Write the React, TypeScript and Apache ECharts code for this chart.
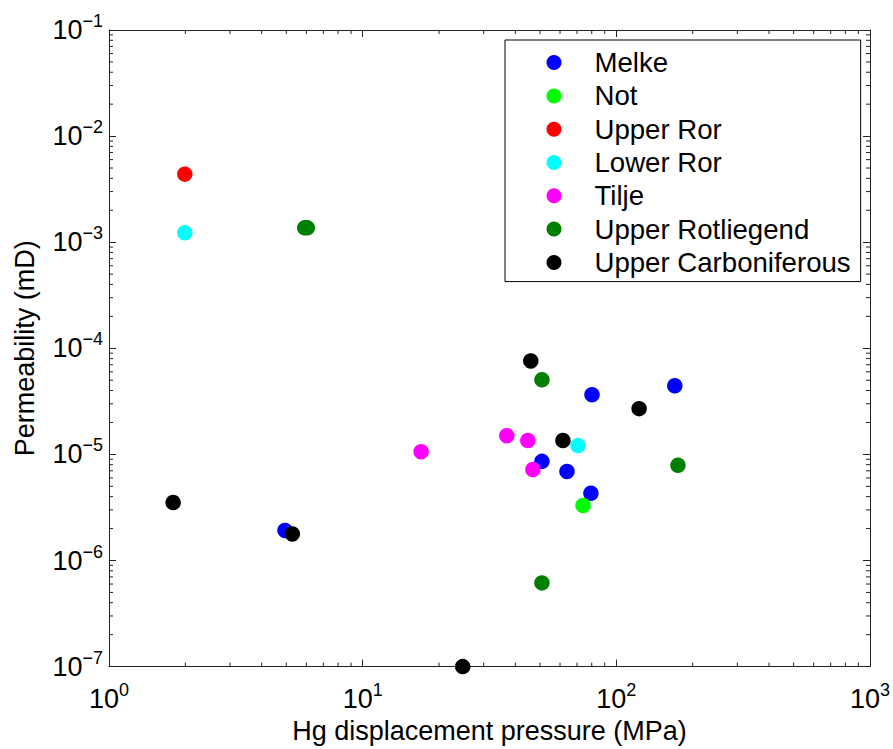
import React, { useEffect, useRef } from "react";
import * as echarts from "echarts";

const FONT = "'Liberation Sans', Arial, Helvetica, sans-serif";

const seriesNames = [
  "Melke",
  "Not",
  "Upper Ror",
  "Lower Ror",
  "Tilje",
  "Upper Rotliegend",
  "Upper Carboniferous",
];
const seriesColors = ["#0000ff", "#00ff00", "#ff0000", "#00ffff", "#ff00ff", "#008000", "#000000"];

const melke = [[4.94, 1.92e-6], [50.9, 8.6e-6], [63.9, 6.9e-6], [80.2, 3.65e-5], [79.4, 4.3e-6], [170, 4.43e-5]];
const notData = [[73.9, 3.3e-6]];
const upperRor = [[1.99, 4.38e-3]];
const lowerRor = [[1.99, 1.225e-3], [70.6, 1.21e-5]];
const tilje = [[17.0, 1.06e-5], [37.0, 1.5e-5], [44.8, 1.35e-5], [46.9, 7.2e-6]];
const upperRotliegend = [[5.91, 1.365e-3], [6.05, 1.365e-3], [50.9, 5.05e-5], [175, 7.9e-6], [50.9, 6.15e-7]];
const upperCarboniferous = [[1.79, 3.52e-6], [5.28, 1.78e-6], [24.8, 1e-7], [46.0, 7.6e-5], [123, 2.7e-5], [61.6, 1.35e-5]];

const allData = [melke, notData, upperRor, lowerRor, tilje, upperRotliegend, upperCarboniferous];

const X_MIN = 1;
const X_MAX = 1000;
const Y_MIN = 1e-7;
const Y_MAX = 1e-1;
const xDecades = [0, 1, 2];
const yDecades = [-7, -6, -5, -4, -3, -2];
const minorMultipliers = [2, 3, 4, 5, 6, 7, 8, 9];

const AXIS_COLOR = "#222";

function expLabel(v: number) {
  const e = Math.round(Math.log10(v));
  const s = e < 0 ? "\u2212" + Math.abs(e) : String(e);
  return `{b|10}{e|${s}}`;
}

const richLabel = {
  b: { fontSize: 27, fontFamily: FONT, color: "#000" },
  e: { fontSize: 18, fontFamily: FONT, color: "#000", padding: [0, 0, 18, 0] },
};

export default function App() {
  const ref = useRef<HTMLDivElement>(null);
  useEffect(() => {
    if (!ref.current) return;
    const chart = echarts.init(ref.current, null, { renderer: "svg" });

    const scatterSeries = seriesNames.map((name, i) => ({
      name,
      type: "scatter",
      xAxisIndex: 0,
      yAxisIndex: 0,
      data: allData[i],
      symbol: "circle",
      symbolSize: 15.5,
      clip: false,
      itemStyle: { color: seriesColors[i], opacity: 1 },
      emphasis: { disabled: true },
      z: 4,
    }));

    const tickSeries = {
      type: "custom",
      xAxisIndex: 0,
      yAxisIndex: 0,
      silent: true,
      clip: false,
      z: 3,
      data: [[X_MIN, Y_MIN]],
      renderItem: (_params: any, api: any) => {
        const children: any[] = [];
        const L = 4;
        const st = { stroke: AXIS_COLOR, lineWidth: 1 };
        xDecades.forEach((d) => {
          minorMultipliers.forEach((m) => {
            const v = Math.pow(10, d) * m;
            const pb = api.coord([v, Y_MIN]);
            const pt = api.coord([v, Y_MAX]);
            children.push({ type: "line", shape: { x1: pb[0], y1: pb[1], x2: pb[0], y2: pb[1] - L }, style: st });
            children.push({ type: "line", shape: { x1: pt[0], y1: pt[1], x2: pt[0], y2: pt[1] + L }, style: st });
          });
        });
        yDecades.forEach((d) => {
          minorMultipliers.forEach((m) => {
            const v = Math.pow(10, d) * m;
            const pl = api.coord([X_MIN, v]);
            const pr = api.coord([X_MAX, v]);
            children.push({ type: "line", shape: { x1: pl[0], y1: pl[1], x2: pl[0] + L, y2: pl[1] }, style: st });
            children.push({ type: "line", shape: { x1: pr[0], y1: pr[1], x2: pr[0] - L, y2: pr[1] }, style: st });
          });
        });
        return { type: "group", children };
      },
    };

    const axisCommon = {
      type: "log",
      logBase: 10,
      axisLine: { show: true, onZero: false, lineStyle: { color: AXIS_COLOR, width: 1 } },
      axisTick: { show: true, inside: true, length: 7, lineStyle: { color: AXIS_COLOR, width: 1 } },
      splitLine: { show: false },
      minorTick: { show: false },
      minorSplitLine: { show: false },
    };

    chart.setOption({
      animation: false,
      backgroundColor: "#ffffff",
      textStyle: { fontFamily: FONT },
      grid: { left: 109, top: 30, width: 761, height: 639, containLabel: false },
      legend: {
        show: true,
        orient: "vertical",
        left: 505,
        top: 40,
        data: seriesNames,
        icon: "circle",
        itemWidth: 15,
        itemHeight: 15,
        itemGap: 5.3,
        padding: [8.6, 10, 5.2, 41.5],
        borderColor: "#000",
        borderWidth: 1,
        borderRadius: 0,
        backgroundColor: "#fff",
        selectedMode: false,
        textStyle: { fontSize: 27.6, lineHeight: 27, fontFamily: FONT, color: "#000", padding: [0, 0, 0, 28] },
      },
      xAxis: [
        {
          ...axisCommon,
          position: "bottom",
          min: X_MIN,
          max: X_MAX,
          splitNumber: 3,
          name: "Hg displacement pressure (MPa)",
          nameLocation: "middle",
          nameGap: 47,
          nameTextStyle: { fontSize: 27, fontFamily: FONT, color: "#000" },
          axisLabel: { show: true, margin: 14, formatter: expLabel, rich: richLabel },
        },
        {
          ...axisCommon,
          position: "top",
          min: X_MIN,
          max: X_MAX,
          splitNumber: 3,
          axisLabel: { show: false },
        },
      ],
      yAxis: [
        {
          ...axisCommon,
          position: "left",
          min: Y_MIN,
          max: Y_MAX,
          splitNumber: 6,
          name: "Permeability (mD)",
          nameLocation: "middle",
          nameGap: 71,
          nameTextStyle: { fontSize: 27, fontFamily: FONT, color: "#000" },
          axisLabel: { show: true, margin: 6, formatter: expLabel, rich: richLabel },
        },
        {
          ...axisCommon,
          position: "right",
          min: Y_MIN,
          max: Y_MAX,
          splitNumber: 6,
          axisLabel: { show: false },
        },
      ],
      series: [tickSeries, ...scatterSeries],
    });
    return () => chart.dispose();
  }, []);
  return <div ref={ref} style={{ width: 893, height: 749, position: "absolute", left: 0, top: 0 }} />;
}
